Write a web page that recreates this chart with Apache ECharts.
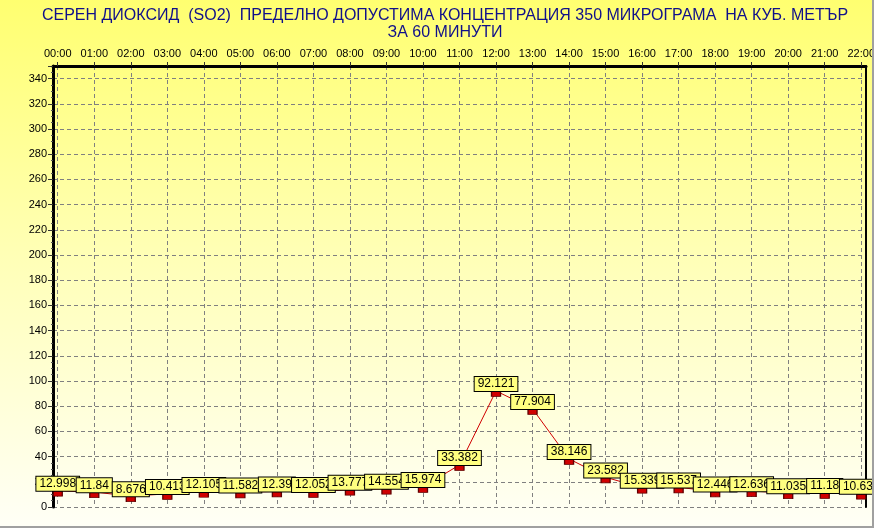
<!DOCTYPE html>
<html><head><meta charset="utf-8">
<script src="https://cdn.jsdelivr.net/npm/echarts@6/dist/echarts.min.js"></script>
<style>
html,body{margin:0;padding:0;background:#ffffff;}
#c{width:872px;height:526px;border-right:2px solid #a0a0a0;border-bottom:2px solid #a0a0a0;}
</style></head>
<body><div id="c"></div>
<script>
const titleLines = ["СЕРЕН ДИОКСИД  (SO2)  ПРЕДЕЛНО ДОПУСТИМА КОНЦЕНТРАЦИЯ 350 МИКРОГРАМА  НА КУБ. МЕТЪР", "ЗА 60 МИНУТИ"];
const hours = ["00:00","01:00","02:00","03:00","04:00","05:00","06:00","07:00","08:00","09:00","10:00","11:00","12:00","13:00","14:00","15:00","16:00","17:00","18:00","19:00","20:00","21:00","22:00"];
const values = [12.998, 11.84, 8.676, 10.413, 12.105, 11.582, 12.39, 12.052, 13.777, 14.554, 15.974, 33.382, 92.121, 77.904, 38.146, 23.582, 15.339, 15.537, 12.446, 12.636, 11.035, 11.18, 10.632];
const yMin = 0, yMax = 350, yStep = 20;

const font = '"Liberation Sans", Arial, sans-serif';
const tickIdx = hours.map((h, i) => i);
const chart = echarts.init(document.getElementById('c'), null, {renderer: 'canvas'});
chart.setOption({
  animation: false,
  backgroundColor: {type: 'linear', x: 0, y: 0, x2: 0, y2: 1, colorStops: [
    {offset: 0, color: '#ffff70'}, {offset: 0.5, color: '#ffffb8'}, {offset: 1, color: '#fffff6'}]},
  title: {
    text: titleLines.join('\n'), left: 445, top: 2, textAlign: 'center', padding: [5, 0, 5, 0],
    textStyle: {fontFamily: font, fontSize: 16, fontWeight: 'normal', color: '#10108a', lineHeight: 17}
  },
  grid: {left: 53, right: 6, top: 66, bottom: 19, containLabel: false, outerBoundsMode: 'none'},
  xAxis: {
    type: 'value', position: 'top', min: -0.13, max: 22.13,
    axisLine: {show: true, onZero: false, lineStyle: {color: '#000', width: 3}},
    axisTick: {show: true, length: 4, inside: false, customValues: tickIdx, lineStyle: {color: '#333'}},
    axisLabel: {customValues: tickIdx, formatter: v => hours[Math.round(v)], fontFamily: font, fontSize: 11, color: '#000', margin: 7},
    splitLine: {show: true, lineStyle: {color: '#808080', type: [4, 3], width: 1}}
  },
  yAxis: [{
    type: 'value', min: yMin, max: yMax, interval: yStep,
    axisLine: {show: true, onZero: false, lineStyle: {color: '#000', width: 3}},
    axisTick: {show: true, length: 5, lineStyle: {color: '#333'}},
    minorTick: {show: true, splitNumber: 4, length: 2, lineStyle: {color: '#555'}},
    axisLabel: {showMaxLabel: false, fontFamily: font, fontSize: 11, color: '#000', margin: 6},
    splitLine: {show: true, lineStyle: {color: '#808080', type: [4, 3], width: 1}}
  }, {
    type: 'value', position: 'right', min: yMin, max: yMax, interval: yStep,
    axisLine: {show: true, onZero: false, lineStyle: {color: '#000', width: 2}},
    axisTick: {show: false}, axisLabel: {show: false}, splitLine: {show: false}
  }],
  series: [{
    type: 'line',
    data: values.map((v, i) => [i, v]),
    symbol: 'rect', symbolSize: [9, 5], symbolOffset: [0, 3],
    itemStyle: {color: '#d00000', borderColor: '#600000', borderWidth: 1},
    lineStyle: {color: '#d00000', width: 1},
    label: {
      show: true, position: 'top', distance: 0,
      formatter: p => String(p.value[1]),
      fontFamily: font, fontSize: 12, color: '#000', lineHeight: 12,
      backgroundColor: '#ffff80', borderColor: '#000', borderWidth: 1, padding: [1, 3, 1, 3]
    },
    emphasis: {disabled: true}
  }]
});
</script></body></html>
